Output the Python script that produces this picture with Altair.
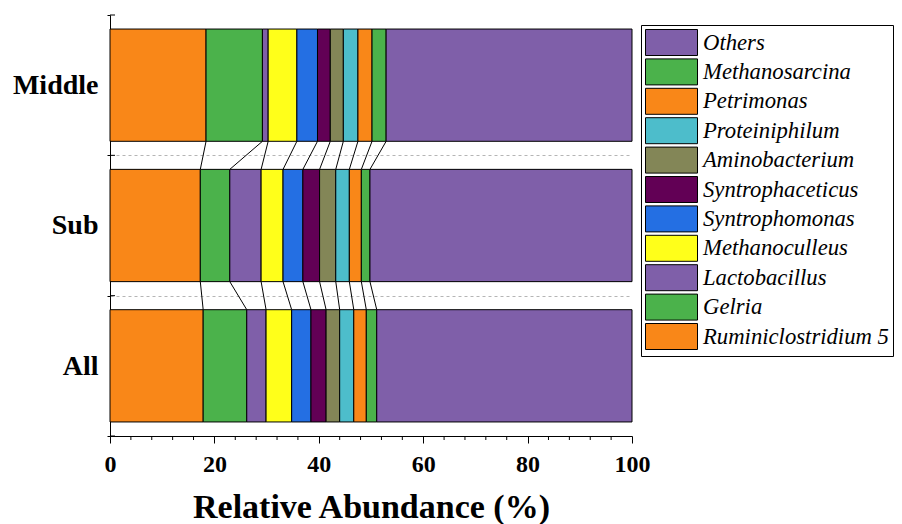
import altair as alt
import pandas as pd
import numpy as np

categories = ["All", "Sub", "Middle"]  # bottom to top
genera = ["Ruminiclostridium 5", "Gelria", "Lactobacillus", "Methanoculleus",
          "Syntrophomonas", "Syntrophaceticus", "Aminobacterium", "Proteiniphilum",
          "Petrimonas", "Methanosarcina", "Others"]
middle_vals = [18.4, 10.8, 1.1, 5.5, 3.95, 2.45, 2.5, 2.8, 2.7, 2.7, 47.1]
sub_vals = [17.3, 5.65, 6.0, 4.2, 3.8, 3.2, 3.1, 2.6, 2.3, 1.65, 50.2]
all_vals = [17.85, 8.35, 3.7, 4.9, 3.7, 2.9, 2.6, 2.7, 2.4, 2.0, 48.9]
colors = ["#F98718", "#4BB24B", "#7F5FA9", "#FFFF1A", "#246FE3", "#620055",
          "#838657", "#4DBDCB", "#F98718", "#4BB24B", "#7F5FA9"]
major_ticks = [0, 20, 40, 60, 80, 100]
minor_ticks = [v for v in range(0, 101, 4) if v % 20 != 0]
y_ticks = [0, 1, 2, 3]

series = {"All": all_vals, "Sub": sub_vals, "Middle": middle_vals}
gap = 0.1

rows = []
cums = {}
for idx, cat in enumerate(categories):
    c = np.concatenate([[0], np.cumsum(series[cat])])
    cums[cat] = c
    for i, g in enumerate(genera):
        rows.append({"cat": cat, "genus": g, "x0": c[i], "x1": c[i + 1],
                     "y0": idx + gap, "y1": idx + 1 - gap})
bars_df = pd.DataFrame(rows)

conn = []
for upper, lower in [("Middle", "Sub"), ("Sub", "All")]:
    ui = categories.index(upper)
    li = categories.index(lower)
    for k in range(1, len(genera)):
        conn.append({"xa": cums[upper][k], "xb": cums[lower][k],
                     "ya": ui + gap, "yb": li + 1 - gap})
conn_df = pd.DataFrame(conn)
minor_df = pd.DataFrame({"t": minor_ticks})
ytick_df = pd.DataFrame({"t": y_ticks})

font = "Liberation Serif"
H = 421
xscale = alt.Scale(domain=[0, 100], nice=False, zero=False)
yscale = alt.Scale(domain=[0, 3], nice=False, zero=False)

label_expr = "datum.value == 0 ? 'All' : datum.value == 1 ? 'Sub' : datum.value == 2 ? 'Middle' : ''"

bars = alt.Chart(bars_df).mark_rect(stroke="black", strokeWidth=1).encode(
    x=alt.X("x0:Q", scale=xscale, axis=alt.Axis(
        values=major_ticks, tickSize=7,
        tickColor="black", domainColor="black", tickWidth=1, domainWidth=1,
        labelFont=font, labelFontSize=24, labelFontWeight="bold", labelColor="black",
        labelPadding=9, labelOverlap=False, labelFlush=False, labelBound=False, grid=False,
        title="Relative Abundance (%)", titleFont=font, titleFontSize=34,
        titleFontWeight="bold", titleColor="black", titlePadding=14)),
    x2="x1:Q",
    y=alt.Y("y0:Q", scale=yscale, axis=alt.Axis(
        values=y_ticks, labelExpr=label_expr, labelOffset=-70,
        tickSize=3, tickColor="black", domainColor="black",
        labelFont=font, labelFontSize=28, labelFontWeight="bold", labelColor="black",
        labelPadding=9, labelOverlap=False, labelFlush=False, labelBound=False, title=None,
        grid=True, gridDash=[3, 3], gridColor="#b5b5b5", gridWidth=1,
        gridOpacity={"condition": {"test": "datum.value == 1 || datum.value == 2", "value": 1}, "value": 0})),
    y2="y1:Q",
    color=alt.Color("genus:N", scale=alt.Scale(domain=genera[::-1], range=colors[::-1]),
                    legend=alt.Legend(
                        title=None, orient="none", legendX=531, legendY=10,
                        symbolType="M-1,-1H3V1H-1Z", symbolSize=676,
                        symbolStrokeColor="black", symbolStrokeWidth=1, symbolOpacity=1,
                        labelFont=font, labelFontStyle="italic", labelFontSize=22.7,
                        labelColor="black", labelOffset=31, labelLimit=400,
                        strokeColor="black", padding=4, rowPadding=-1.6)),
)

connectors = alt.Chart(conn_df).mark_rule(color="black", strokeWidth=1).encode(
    x="xa:Q", x2="xb:Q", y="ya:Q", y2="yb:Q")

minor = alt.Chart(minor_df).mark_rule(color="black", strokeWidth=1).encode(
    x=alt.X("t:Q", scale=xscale), y=alt.value(H), y2=alt.value(H + 4))

ytick_in = alt.Chart(ytick_df).mark_rule(color="black", strokeWidth=1).encode(
    y=alt.Y("t:Q", scale=yscale), x=alt.value(0), x2=alt.value(5))

chart = alt.layer(bars, connectors, minor, ytick_in).properties(
    width=522, height=H,
    autosize=alt.AutoSizeParams(type="none"),
    padding={"left": 102, "top": 7, "right": 262, "bottom": 100},
).configure_view(stroke=None).configure_legend(
    labelFont=font, labelFontStyle="italic"
)

chart.save("out.html", embed_options={"renderer": "svg", "actions": False})
